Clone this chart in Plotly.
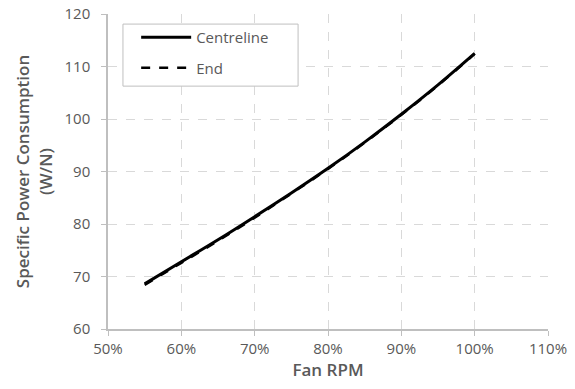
import plotly.graph_objects as go

# Fan speed as a fraction of rated RPM
rpm = [0.55, 0.60, 0.65, 0.70, 0.75, 0.80, 0.85, 0.90, 0.95, 1.00]
# Specific power consumption (W/N)
centreline = [68.6, 72.8, 77.0, 81.4, 85.9, 90.6, 95.6, 100.9, 106.5, 112.5]
end = [68.4, 72.6, 76.8, 81.2, 85.8, 90.5, 95.5, 100.8, 106.4, 112.4]

grey = "#595959"
grid = "#d9d9d9"
font = "Open Sans, Noto Sans, sans-serif"

fig = go.Figure()
fig.add_trace(go.Scatter(x=rpm, y=centreline, mode="lines", name="Centreline",
                         legendgroup="c",
                         line=dict(color="black", width=3, shape="spline")))
fig.add_trace(go.Scatter(x=rpm, y=end, mode="lines", name="End",
                         legendgroup="e",
                         line=dict(color="black", width=2.5, dash="dash", shape="spline")))

# framed box behind the legend entries
fig.add_shape(type="rect", xref="x domain", yref="y domain",
              x0=0.034, x1=0.432, y0=0.771, y1=0.968,
              fillcolor="white", line=dict(color="#bfbfbf", width=1), layer="above")

fig.update_layout(
    width=575, height=389,
    margin=dict(l=108, r=27, t=14, b=60),
    paper_bgcolor="white", plot_bgcolor="white",
    font=dict(family=font, size=15, color=grey),
    showlegend=True,
    legend=dict(x=0.064, y=0.978, xanchor="left", yanchor="top",
                bgcolor="rgba(0,0,0,0)", borderwidth=0,
                font=dict(size=15, color=grey), tracegroupgap=8,
                itemwidth=50),
    xaxis=dict(range=[0.5, 1.1], dtick=0.1, tickformat=".0%", automargin=False,
               showgrid=True, gridcolor=grid, griddash="dash", gridwidth=1,
               showline=True, linecolor="#bfbfbf", linewidth=1.5,
               ticks="outside", ticklen=5, tickcolor="#bfbfbf",
               zeroline=False, tickfont=dict(size=15, color=grey),
               title=dict(text="Fan RPM", font=dict(size=17, color=grey, weight=600),
                          standoff=6)),
    yaxis=dict(range=[60, 120], dtick=10, automargin=False,
               showgrid=True, gridcolor=grid, griddash="dash", gridwidth=1,
               showline=True, linecolor="#bfbfbf", linewidth=1.5,
               ticks="outside", ticklen=5, tickcolor="#bfbfbf",
               ticklabelstandoff=8,
               zeroline=False, tickfont=dict(size=15, color=grey),
               title=dict(text="Specific Power Consumption<br>(W/N)",
                          font=dict(size=17, color=grey, weight=600), standoff=8)),
)

fig.write_html("out.html")
